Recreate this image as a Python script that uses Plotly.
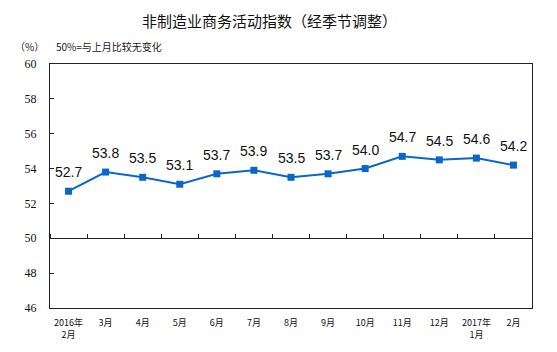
import plotly.graph_objects as go

categories = ["2016年<br>2月", "3月", "4月", "5月", "6月", "7月", "8月", "9月",
              "10月", "11月", "12月", "2017年<br>1月", "2月"]
values = [52.7, 53.8, 53.5, 53.1, 53.7, 53.9, 53.5, 53.7, 54.0, 54.7, 54.5, 54.6, 54.2]
y_ticks = [46, 48, 50, 52, 54, 56, 58, 60]
title_text = "非制造业商务活动指数（经季节调整）"
unit_text = "（%）"
note_text = "50%=与上月比较无变化"

cjk = "Noto Sans CJK SC"
line_color = "#0A66C8"

fig = go.Figure()
fig.add_trace(go.Scatter(
    x=categories, y=values, mode="lines+markers",
    line=dict(color=line_color, width=2),
    marker=dict(symbol="square", size=7, color=line_color),
    hoverinfo="skip", showlegend=False,
))
# invisible trace to activate the 50-line axis
fig.add_trace(go.Scatter(x=categories, y=values, xaxis="x2", mode="none",
                         hoverinfo="skip", showlegend=False))

annotations = []
for c, v in zip(categories, values):
    annotations.append(dict(x=c, y=v, xref="x", yref="y", text=f"{v:.1f}",
                            showarrow=False, yshift=19, yanchor="middle",
                            font=dict(family="Liberation Sans, Arial", size=14, color="#111")))
annotations.append(dict(x=0.455, y=20, xref="paper", yref="pixel", text=title_text,
                        showarrow=False, xanchor="center", yanchor="middle",
                        font=dict(family=cjk, size=15, color="#111")))
annotations.append(dict(x=13, y=47, xref="pixel", yref="pixel", text=unit_text,
                        showarrow=False, xanchor="left", yanchor="middle",
                        font=dict(family=cjk, size=10, color="#222")))
annotations.append(dict(x=54, y=47, xref="pixel", yref="pixel", text=note_text,
                        showarrow=False, xanchor="left", yanchor="middle",
                        font=dict(family=cjk, size=10, color="#222")))

# convert pixel-positioned annotations to paper coords
H, W = 352, 557
ml, mr, mt, mb = 50, 25, 64, 44
for a in annotations:
    if a.get("yref") == "pixel":
        a["yref"] = "paper"
        a["y"] = (H - mb - a["y"]) / (H - mt - mb)
    if a.get("xref") == "pixel":
        a["xref"] = "paper"
        a["x"] = (a["x"] - ml) / (W - ml - mr)

fig.update_layout(
    width=W, height=H,
    margin=dict(l=ml, r=mr, t=mt, b=mb),
    paper_bgcolor="white", plot_bgcolor="white",
    annotations=annotations,
    xaxis=dict(type="category", range=[-0.5, len(categories) - 0.5],
               showline=True, linecolor="#222", linewidth=1.2, mirror=True,
               ticks="", showgrid=False, zeroline=False,
               tickfont=dict(family=cjk, size=9, color="#111"), ticklabelstandoff=6),
    xaxis2=dict(type="category", overlaying="x", matches="x", anchor="free",
                position=(50 - 46) / (60 - 46), side="top",
                showline=True, linecolor="#222", linewidth=1.2,
                ticks="outside", ticklen=4, tickcolor="#222", tickson="boundaries",
                showticklabels=False, showgrid=False, zeroline=False),
    yaxis=dict(range=[46, 60], tickvals=y_ticks, showline=True, linecolor="#222",
               linewidth=1.2, mirror=True, ticks="inside", ticklen=4, tickcolor="#222",
               showgrid=False, zeroline=False,
               tickfont=dict(family="Liberation Serif, Times New Roman", size=12, color="#111"),
               ticklabelstandoff=10),
)

fig.write_html("out.html")
